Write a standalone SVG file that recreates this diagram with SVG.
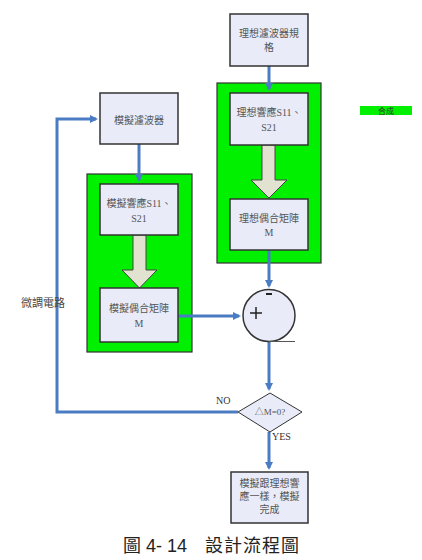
<svg xmlns="http://www.w3.org/2000/svg" width="422" height="560" viewBox="0 0 422 560">
<defs>
<marker id="ah" markerWidth="8" markerHeight="8" refX="6" refY="4" orient="auto" markerUnits="userSpaceOnUse">
<path d="M0,0 L8,4 L0,8 Z" fill="#4a7cc4"/>
</marker>
<style>
.box{fill:#e9ecf8;stroke:#333;stroke-width:1.5}
.grp{fill:#00f000;stroke:#333;stroke-width:1.2}
.blk{fill:#e2e2d0;stroke:#444;stroke-width:1}
.t{font-family:"Liberation Serif","Noto Sans CJK TC",serif;font-size:10px;fill:#555;text-anchor:middle}
.lbl{font-family:"Liberation Serif","Noto Sans CJK TC",serif;font-size:10px;fill:#333}
.c{fill:none;stroke:#4a7cc4;stroke-width:3}
.cap{font-family:"Liberation Sans","Noto Sans CJK TC",sans-serif;font-size:18px;fill:#222}
</style>
</defs>
<rect width="422" height="560" fill="#fff"/>

<g id="group-right"><rect class="grp" x="217" y="83" width="104" height="180"/></g>
<g id="group-left"><rect class="grp" x="87" y="174" width="105" height="178"/></g>

<g id="connectors">
<line class="c" x1="269" y1="66" x2="269" y2="89" marker-end="url(#ah)"/>
<line class="c" x1="139" y1="144" x2="139" y2="180" marker-end="url(#ah)"/>
<line class="c" x1="269" y1="250" x2="269" y2="286" marker-end="url(#ah)"/>
<line class="c" x1="178" y1="316" x2="239" y2="316" marker-end="url(#ah)"/>
<line class="c" x1="269" y1="341" x2="269" y2="389" marker-end="url(#ah)"/>
<line class="c" x1="269" y1="432" x2="269" y2="468" marker-end="url(#ah)"/>
<polyline class="c" points="238,412 57,412 57,119 96,119" marker-end="url(#ah)"/>
<path class="blk" d="M262,145 H275 V180 H287 L269,198 L251,180 H262 Z"/>
<path class="blk" d="M133,235 H146 V270 H157 L139.5,288 L122,270 H133 Z"/>
</g>

<g id="n-spec"><rect class="box" x="230" y="14" width="78" height="52"/>
<text class="t" x="269" y="37">理想濾波器規</text><text class="t" x="269" y="51">格</text></g>

<g id="n-ideal-resp"><rect class="box" x="230" y="93" width="78" height="52"/>
<text class="t" x="269" y="116">理想響應S11、</text><text class="t" x="269" y="131">S21</text></g>

<g id="n-ideal-m"><rect class="box" x="230" y="199" width="78" height="51"/>
<text class="t" x="269" y="222">理想偶合矩陣</text><text class="t" x="269" y="236">M</text></g>

<g id="n-sim-filter"><rect class="box" x="100" y="93" width="78" height="51"/>
<text class="t" x="139" y="124">模擬濾波器</text></g>

<g id="n-sim-resp"><rect class="box" x="100" y="184" width="78" height="51"/>
<text class="t" x="139" y="207">模擬響應S11、</text><text class="t" x="139" y="222">S21</text></g>

<g id="n-sim-m"><rect class="box" x="100" y="288" width="78" height="54"/>
<text class="t" x="139" y="312">模擬偶合矩陣</text><text class="t" x="139" y="327">M</text></g>

<g id="n-sum"><circle cx="269" cy="315.5" r="26" fill="#e9ecf8" stroke="#333" stroke-width="1.5"/>
<line x1="269" y1="341.5" x2="295" y2="341.5" stroke="#555" stroke-width="1"/>
<line x1="266" y1="294" x2="272" y2="294" stroke="#222" stroke-width="2"/>
<line x1="250" y1="313" x2="262" y2="313" stroke="#222" stroke-width="1.5"/>
<line x1="256" y1="307" x2="256" y2="319" stroke="#222" stroke-width="1.5"/></g>

<g id="n-decision"><polygon points="238,412 270,393 302,412 270,432" fill="#e9ecf8" stroke="#333" stroke-width="1"/>
<text class="t" x="270" y="415" style="font-size:9px">△M=0?</text></g>

<g id="n-done"><rect class="box" x="231" y="472" width="77" height="51"/>
<text class="t" x="269.5" y="487">模擬跟理想響</text><text class="t" x="269.5" y="500">應一樣，模擬</text><text class="t" x="269.5" y="513">完成</text></g>

<g id="labels">
<text class="lbl" x="216" y="404">NO</text>
<text class="lbl" x="272" y="440">YES</text>
<text class="lbl" x="21" y="307" style="font-size:11px;fill:#444">微調電路</text>
<rect x="360" y="106" width="52" height="9" fill="#00f000"/>
<text x="386" y="114" style="font-family:'Noto Sans CJK TC',sans-serif;font-size:8px;fill:#333;text-anchor:middle">合成</text>
<text class="cap" x="123" y="552">圖 4- 14</text>
<text class="cap" x="205" y="552" style="letter-spacing:1px">設計流程圖</text>
</g>
</svg>
